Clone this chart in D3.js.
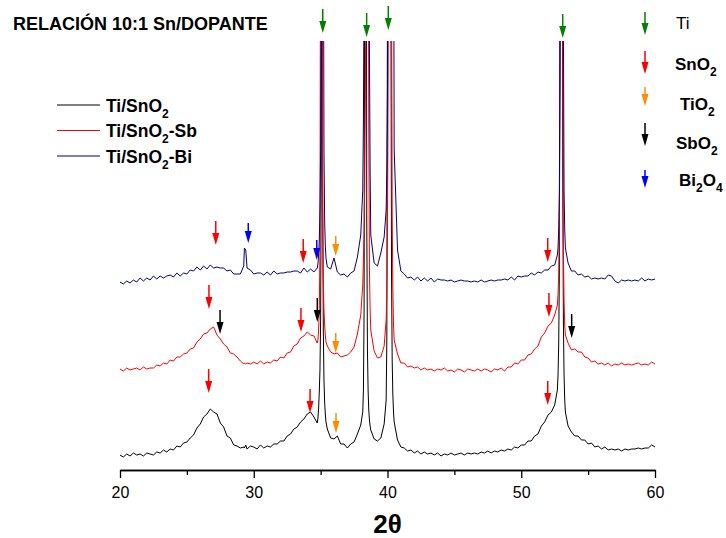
<!DOCTYPE html>
<html>
<head>
<meta charset="utf-8">
<script src="https://cdn.jsdelivr.net/npm/d3@7"></script>
<style>
  body { margin: 0; background: #fff; }
  svg { display: block; }
  text { font-family: "Liberation Sans", Arial, sans-serif; fill: #000; }
</style>
</head>
<body>
<div id="chart"></div>
<script>
// 2theta sampling (coarse on the background, fine over the Ti reflections)
var twoTheta = [
  20,20.25,20.5,20.75,21,21.25,21.5,21.75,22,22.25,
  22.5,22.75,23,23.25,23.5,23.75,24,24.25,24.5,24.75,
  25,25.25,25.5,25.75,26,26.25,26.5,26.75,27,27.25,
  27.5,27.75,28,28.25,28.5,28.75,29,29.25,29.3,29.4,
  29.5,29.75,30,30.25,30.5,30.75,31,31.25,31.5,31.75,
  32,32.25,32.5,32.75,33,33.25,33.5,33.75,34,34.25,
  34.5,34.75,
  34.8,34.85,34.9,34.95,35,35.05,35.1,35.15,35.2,35.25,35.3,35.35,35.4,
  35.5,35.75,36,36.25,36.5,36.75,37,37.25,37.5,37.75,38,
  38.15,38.2,38.25,38.3,38.35,38.4,38.45,38.5,38.55,38.6,38.65,38.7,38.75,
  39,39.25,39.5,39.75,
  39.9,39.95,40,40.05,40.1,40.15,40.2,40.25,40.3,40.35,40.4,40.45,40.5,
  40.75,41,41.25,41.5,41.75,42,42.25,42.5,42.75,43,
  43.25,43.5,43.75,44,44.25,44.5,44.75,45,45.25,45.5,
  45.75,46,46.25,46.5,46.75,47,47.25,47.5,47.75,48,
  48.25,48.5,48.75,49,49.25,49.5,49.75,50,50.25,50.5,
  50.75,51,51.25,51.5,51.75,52,52.25,52.5,
  52.7,52.75,52.8,52.85,52.9,52.95,53,53.05,53.1,53.15,53.2,53.25,53.3,
  53.5,53.75,54,54.25,54.5,54.75,55,55.25,55.5,55.75,
  56,56.25,56.5,56.75,57,57.25,57.5,57.75,58,58.25,
  58.5,58.75,59,59.25,59.5,59.75,60
];

// intensities (a.u., traces already stacked)
var tiSnO2 = [
  15,13,16,14,17,15,16,14,17,16,
  15,18,17,20,18,21,20,24,23,27,
  28,32,35,42,46,53,56,61,58,56,
  47,43,34,32,25,24,22,23,22,25,
  21,24,23,21,25,22,24,23,26,26,
  29,29,34,36,41,43,48,51,56,58,
  53,47,
  52,62,78,100,150,300,950,290,140,90,68,56,48,
  41,32,31,34,26,26,22,26,28,36,45,
  58,80,160,600,1200,900,250,120,80,60,50,44,40,
  31,29,32,46,
  70,130,500,900,1200,1100,900,500,200,110,75,58,48,
  30,23,22,19,20,17,19,16,18,16,
  17,15,17,14,16,15,17,15,16,17,
  15,17,16,17,16,18,17,19,17,19,
  18,20,19,21,20,23,22,25,25,29,
  29,34,36,44,48,55,58,65,
  80,95,125,200,500,1100,1200,800,300,150,95,70,58,
  44,38,34,34,30,30,26,27,23,24,
  21,23,20,21,20,21,19,21,20,21,
  21,22,21,22,22,25,23
];

var tiSnO2Sb = [
  101,99,102,100,101,102,100,103,101,102,
  102,105,104,107,106,110,109,113,113,116,
  117,121,122,128,131,136,137,141,143,135,
  131,126,123,117,116,113,109,106,107,106,
  107,106,108,106,109,106,108,107,110,109,
  113,112,117,118,124,126,132,134,138,135,
  134,127,
  130,140,160,220,600,1200,700,260,190,160,145,135,128,
  124,118,116,117,113,114,115,118,123,136,155,
  185,210,240,290,380,600,1100,1200,800,350,200,160,140,
  119,112,113,124,
  150,180,240,400,900,1200,1200,1000,500,260,180,145,130,
  116,107,107,103,104,102,103,100,102,100,
  101,99,101,100,102,99,100,98,101,100,
  98,101,100,99,101,99,101,100,98,101,
  100,102,99,103,103,107,106,110,110,115,
  116,121,124,133,137,144,147,155,
  165,175,195,240,450,1100,1200,1000,400,220,170,145,135,
  127,120,121,118,118,113,112,108,109,106,
  107,105,107,104,106,105,107,105,106,105,
  106,107,105,106,105,108,106
];

var tiSnO2Bi = [
  188,186,189,187,190,188,192,189,192,190,
  194,191,194,192,194,195,193,197,194,197,
  196,200,199,203,200,204,201,205,202,203,
  202,202,199,200,196,196,196,204,222,220,
  202,200,196,197,197,195,198,195,199,196,
  197,197,198,198,199,199,197,202,198,201,
  198,202,
  206,215,230,260,320,500,1100,1200,600,320,250,225,212,
  203,201,212,198,195,196,193,197,199,213,235,
  280,350,500,900,1200,1200,1200,1200,1100,700,420,300,235,
  207,204,217,233,
  260,300,380,600,1000,1200,1200,1200,1200,1100,800,600,320,
  220,199,196,192,193,190,193,189,192,189,
  192,188,191,190,190,189,190,188,189,190,
  189,189,188,189,188,190,188,189,190,189,
  190,190,191,190,193,190,194,193,194,194,
  197,195,198,197,200,200,204,205,
  215,222,240,280,400,800,1200,1200,1000,450,280,240,222,
  207,199,199,195,196,193,194,191,192,191,
  192,191,195,194,189,187,190,189,190,189,
  190,189,192,189,191,190,191
];

var seriesNames = ["Ti/SnO2", "Ti/SnO2-Sb", "Ti/SnO2-Bi"];
var phases = ["Ti", "SnO2", "TiO2", "SbO2", "Bi2O4"];

// phase markers: position (2theta), height of the arrow tip, phase
var markerTheta = [35.16, 38.44, 40.06, 53.10,
                   27.16, 29.59, 33.70, 34.71, 36.13, 51.98,
                   26.65, 27.48, 33.53, 34.75, 36.13, 52.07, 53.77,
                   26.63, 34.21, 36.15, 51.98];
var markerLevel = [437, 433, 440, 432,
                   225, 227, 207, 210, 214, 208,
                   161, 136, 138, 148, 117, 153, 132,
                   77, 57, 37, 65];
var markerPhase = ["Ti", "Ti", "Ti", "Ti",
                   "SnO2", "Bi2O4", "SnO2", "Bi2O4", "TiO2", "SnO2",
                   "SnO2", "SbO2", "SnO2", "SbO2", "TiO2", "SnO2", "SbO2",
                   "SnO2", "SnO2", "TiO2", "SnO2"];

var xTicks = [20, 30, 40, 50, 60];
var xMinorTicks = [25, 35, 45, 55];

var seriesColor = ["#000000", "#ff0000", "#000080"];
var phaseColor = {Ti: "#008000", SnO2: "#ff0000", TiO2: "#ff8c00", SbO2: "#000000", Bi2O4: "#0000ff"};
var arrowLen = {Ti: 24, SnO2: 24, TiO2: 20, SbO2: 24, Bi2O4: 20};

var width = 726, height = 538;

var svg = d3.select("#chart")
  .append("svg")
    .attr("width", width)
    .attr("height", height);

var x = d3.scaleLinear().domain([20, 60]).range([120, 655]);
var y = d3.scaleLinear().domain([0, 430]).range([470, 40]);

// peaks run off the top of the frame
svg.append("clipPath").attr("id", "plot")
  .append("rect")
    .attr("x", x(20) - 2).attr("y", y(429))
    .attr("width", x(60) - x(20) + 4).attr("height", y(0) - y(429));

var line = d3.line()
  .x(function(d, i) { return x(twoTheta[i]); })
  .y(function(d) { return y(d); });

var series = [tiSnO2, tiSnO2Sb, tiSnO2Bi];

svg.append("g")
  .attr("clip-path", "url(#plot)")
  .selectAll("path")
  .data(series)
  .enter()
  .append("path")
    .attr("d", function(d) { return line(d); })
    .attr("fill", "none")
    .attr("stroke", function(d, i) { return seriesColor[i]; })
    .attr("stroke-width", 1);

// X axis
svg.append("g")
  .attr("transform", "translate(0," + y(0) + ")")
  .call(d3.axisBottom(x).tickValues(xMinorTicks).tickSize(5).tickSizeOuter(0).tickFormat(""))
  .selectAll("path,line").attr("stroke-width", 1.3);

var ax = svg.append("g")
  .attr("transform", "translate(0," + y(0) + ")")
  .call(d3.axisBottom(x).tickValues(xTicks).tickSize(8).tickPadding(9).tickSizeOuter(0));
ax.attr("font-size", 16).attr("font-family", "Liberation Sans, Arial, sans-serif");
ax.selectAll("path,line").attr("stroke-width", 1.3);

svg.append("text")
  .attr("x", (x(20) + x(60)) / 2)
  .attr("y", 533)
  .attr("text-anchor", "middle")
  .attr("font-size", 26)
  .attr("font-weight", "bold")
  .text("2θ");

// title
svg.append("text")
  .attr("x", 13).attr("y", 30)
  .attr("font-size", 18)
  .attr("font-weight", "bold")
  .text("RELACIÓN 10:1 Sn/DOPANTE");

// chemical formula with subscripted digits
function chem(sel, str, sub) {
  str.split(/(\d+)/).forEach(function(part, i) {
    if (!part) return;
    if (i % 2) sel.append("tspan").attr("font-size", sub).attr("dy", 6).text(part);
    else sel.append("tspan").attr("dy", i ? -6 : 0).text(part);
  });
}

function arrow(g, cx, tip, len, color) {
  g.append("line")
    .attr("x1", cx).attr("x2", cx)
    .attr("y1", tip - len).attr("y2", tip - 8)
    .attr("stroke", color).attr("stroke-width", 1.5);
  g.append("path")
    .attr("d", "M" + (cx - 3.5) + "," + (tip - 12) + "L" + (cx + 3.5) + "," + (tip - 12) + "L" + cx + "," + tip + "Z")
    .attr("fill", color);
}

// phase markers
var marks = svg.append("g");
markerTheta.forEach(function(t, i) {
  var p = markerPhase[i];
  arrow(marks, x(t), y(markerLevel[i]), arrowLen[p], phaseColor[p]);
});

// series legend
var leg = svg.append("g");
seriesNames.forEach(function(name, i) {
  var ly = 105 + i * 25.5;
  leg.append("line")
    .attr("x1", 57).attr("x2", 100)
    .attr("y1", ly).attr("y2", ly)
    .attr("stroke", seriesColor[i]).attr("stroke-width", 1);
  var t = leg.append("text")
    .attr("x", 106).attr("y", ly + 6.5)
    .attr("font-size", 17.5)
    .attr("font-weight", "bold");
  chem(t, name, 12);
});

// phase legend
var tips = [35, 74, 106, 146, 188];
var labelX = [676, 675, 680, 676, 679];
var labelY = [29, 70, 110, 149, 186];
var pleg = svg.append("g");
phases.forEach(function(p, i) {
  arrow(pleg, 645, tips[i], i == 4 ? 18 : arrowLen[p] - 1, phaseColor[p]);
  var t = pleg.append("text")
    .attr("x", labelX[i]).attr("y", labelY[i])
    .attr("font-size", 17)
    .attr("font-weight", p == "Ti" ? "normal" : "bold");
  chem(t, p, 12);
});
</script>
</body>
</html>
